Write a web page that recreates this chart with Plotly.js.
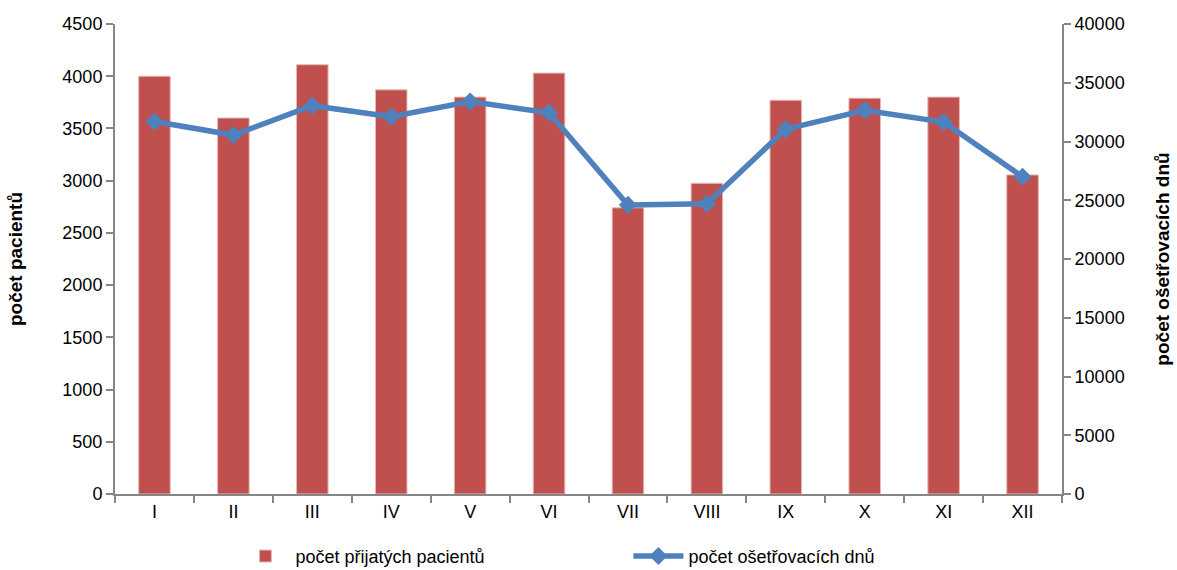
<!DOCTYPE html>
<html>
<head>
<meta charset="utf-8">
<script src="https://cdn.plot.ly/plotly-3.0.1.min.js"></script>
<style>html,body{margin:0;padding:0;background:#fff;}#chart{width:1177px;height:570px;}</style>
</head>
<body>
<div id="chart"></div>
<script>
const months = ["I","II","III","IV","V","VI","VII","VIII","IX","X","XI","XII"];
const admittedPatients = [4000, 3600, 4110, 3870, 3800, 4030, 2740, 2975, 3770, 3790, 3800, 3055];
const careDays = [31700, 30550, 33050, 32100, 33400, 32450, 24600, 24700, 31050, 32650, 31650, 27000];

const fontFam = "Liberation Sans, Arial, sans-serif";
const axisColor = "#868686";

const traces = [
  {
    type: "bar",
    name: "počet přijatých pacientů",
    x: months,
    y: admittedPatients,
    marker: {color: "#C0504D", line: {color: "#E6B9B8", width: 1}},
    yaxis: "y"
  },
  {
    type: "scatter",
    mode: "lines+markers",
    name: "počet ošetřovacích dnů",
    x: months,
    y: careDays,
    line: {color: "#4F81BD", width: 5.5},
    marker: {symbol: "diamond", size: 14, color: "#4F81BD"},
    yaxis: "y2"
  }
];

const layout = {
  width: 1177,
  height: 570,
  margin: {l: 115, r: 115, t: 24, b: 76},
  paper_bgcolor: "#fff",
  plot_bgcolor: "#fff",
  bargap: 0.6,
  font: {family: fontFam, size: 18, color: "#000"},
  showlegend: true,
  legend: {
    orientation: "h",
    xref: "container", yref: "container",
    x: 0.2, xanchor: "left",
    y: 0.024, yanchor: "middle",
    font: {family: fontFam, size: 18, color: "#000"},
    entrywidth: 328, entrywidthmode: "pixels",
    itemwidth: 50,
    traceorder: "normal"
  },
  xaxis: {
    type: "category",
    range: [-0.5, 11.5],
    showline: true, linecolor: axisColor, linewidth: 2,
    ticks: "outside", ticklen: 7, tickcolor: axisColor, tickwidth: 2,
    tickson: "boundaries",
    showgrid: false, zeroline: false,
    tickfont: {family: fontFam, size: 18},
    fixedrange: true
  },
  yaxis: {
    range: [0, 4500], dtick: 500,
    showline: true, linecolor: axisColor, linewidth: 2,
    ticks: "outside", ticklen: 7, tickcolor: axisColor, tickwidth: 2,
    showgrid: false, zeroline: false,
    tickfont: {family: fontFam, size: 18},
    title: {text: "počet pacientů", font: {family: fontFam, size: 19, color: "#000", weight: "bold"}, standoff: 35},
    automargin: false
  },
  yaxis2: {
    overlaying: "y", side: "right",
    range: [0, 40000], dtick: 5000, tickformat: "d",
    showline: true, linecolor: axisColor, linewidth: 2,
    ticks: "outside", ticklen: 7, tickcolor: axisColor, tickwidth: 2,
    showgrid: false, zeroline: false,
    tickfont: {family: fontFam, size: 18},
    title: {text: "počet ošetřovacích dnů", font: {family: fontFam, size: 19, color: "#000", weight: "bold"}, standoff: 32},
    automargin: false
  }
};

Plotly.newPlot("chart", traces, layout, {staticPlot: true, displayModeBar: false});
</script>
</body>
</html>
